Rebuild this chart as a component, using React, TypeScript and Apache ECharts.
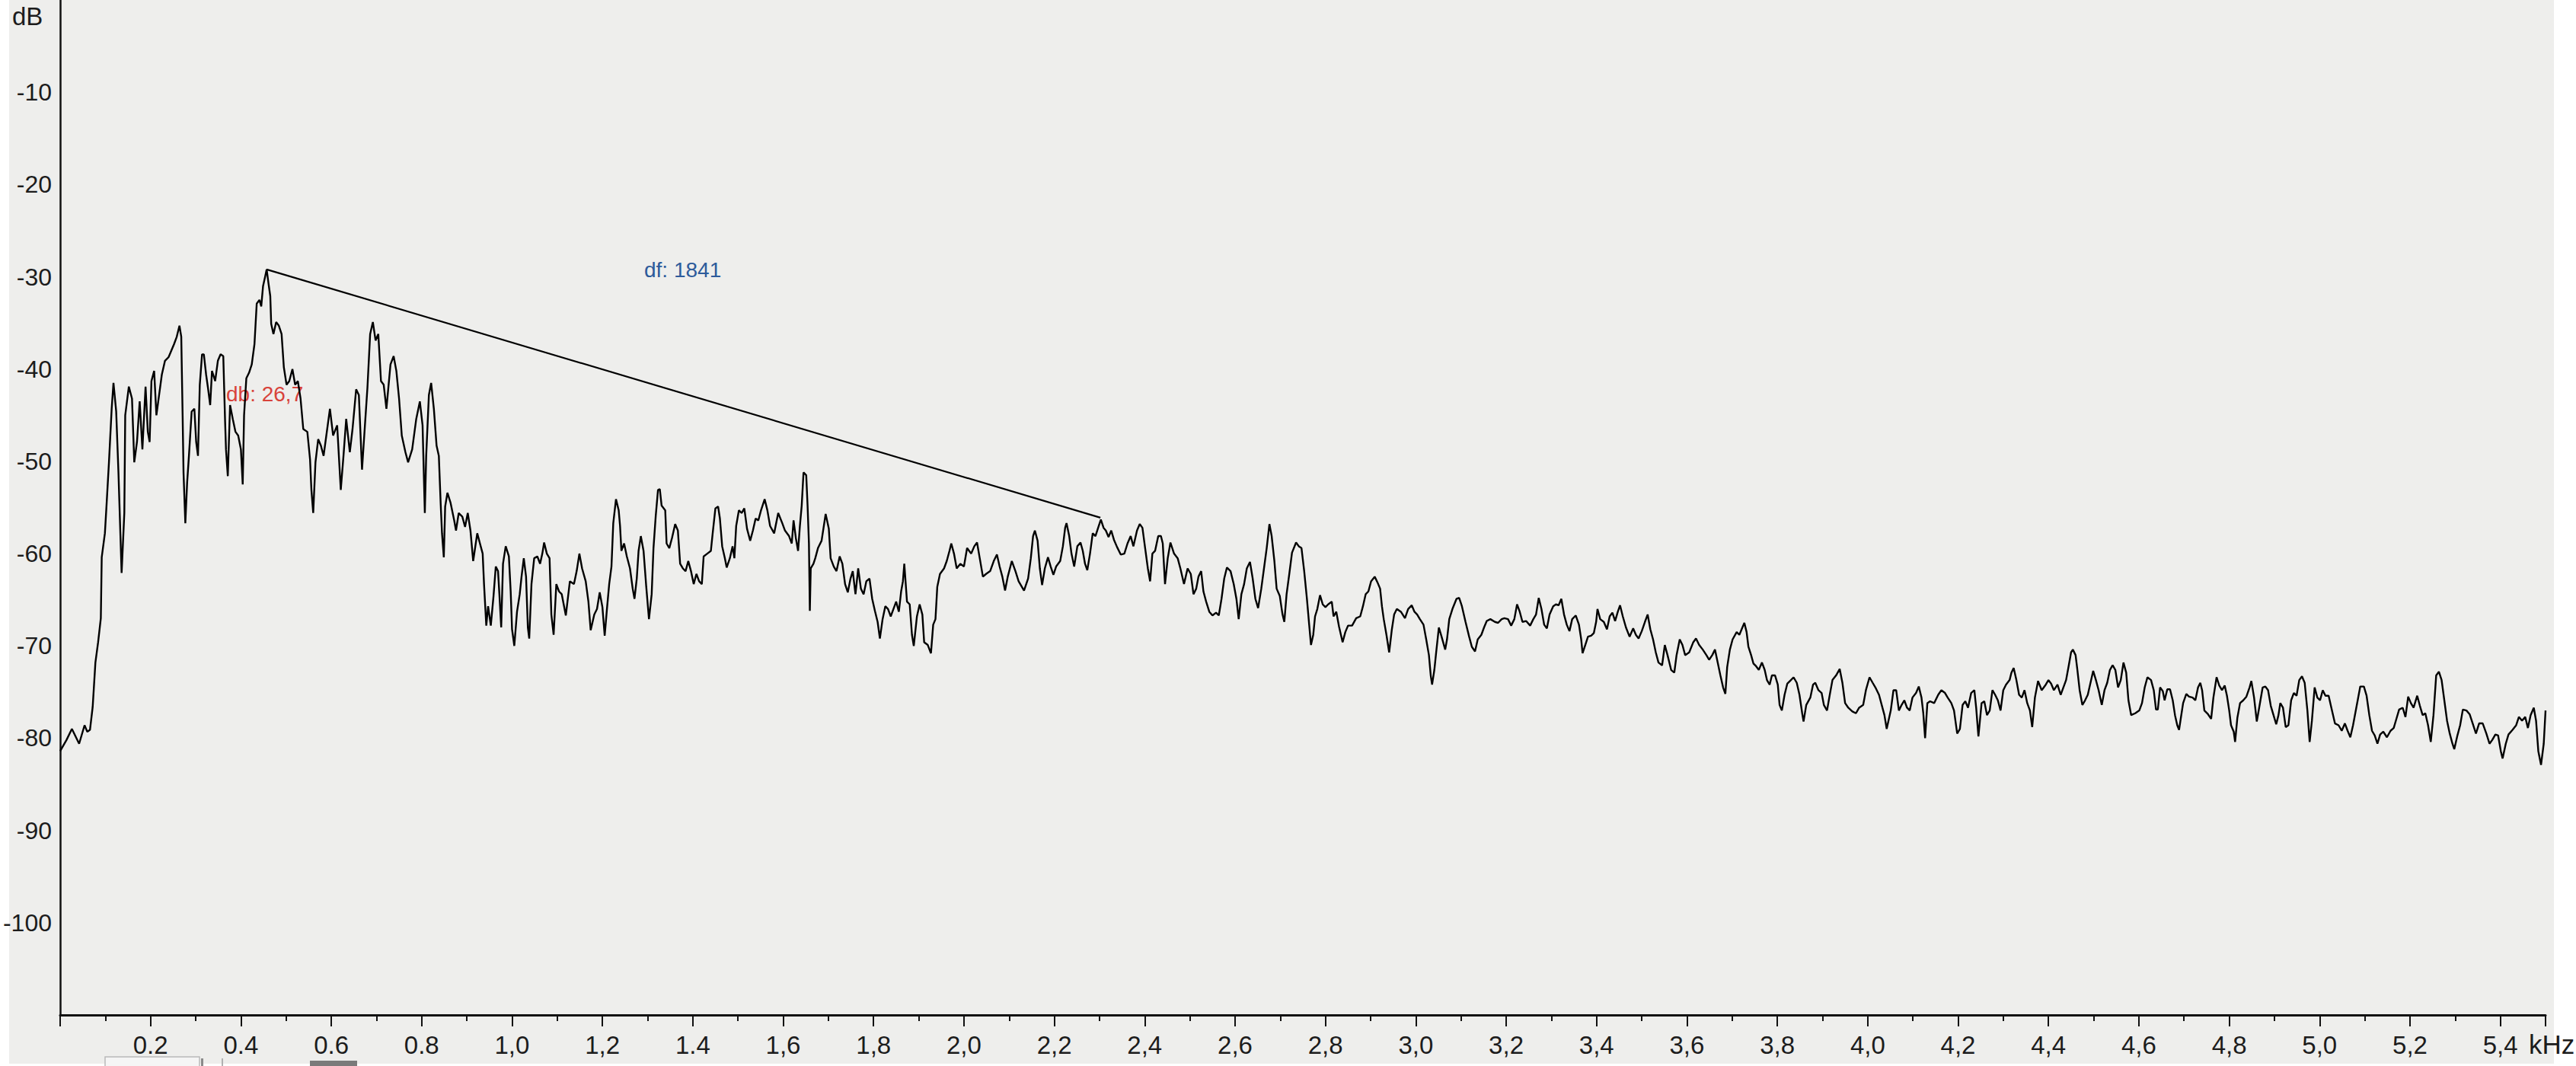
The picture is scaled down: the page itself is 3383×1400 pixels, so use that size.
import React, { useEffect, useRef } from "react";
import * as echarts from "echarts";

// ---- data ----
const spectrumPoints: [number, number][] = [
  [0.000, -81.4], [0.014, -80.2], [0.026, -79.0], [0.042, -80.6], [0.054, -78.6], [0.060, -79.3], [0.066, -79.1],
  [0.072, -76.6], [0.078, -71.8], [0.084, -69.6], [0.090, -67.0], [0.092, -60.4], [0.099, -57.8], [0.102, -55.3],
  [0.108, -50.1], [0.114, -44.3], [0.118, -41.5], [0.124, -44.6], [0.129, -51.2], [0.136, -62.1], [0.142, -55.6],
  [0.144, -45.0], [0.152, -41.9], [0.159, -43.2], [0.164, -50.1], [0.170, -47.9], [0.176, -43.5], [0.182, -48.7],
  [0.189, -41.9], [0.194, -46.8], [0.198, -47.9], [0.202, -41.3], [0.208, -40.2], [0.213, -45.0], [0.219, -42.8],
  [0.225, -40.6], [0.232, -39.1], [0.240, -38.7], [0.246, -38.0], [0.252, -37.3], [0.258, -36.5], [0.264, -35.3],
  [0.268, -36.5], [0.271, -45.0], [0.273, -51.2], [0.277, -56.7], [0.281, -52.3], [0.285, -49.4], [0.291, -44.6],
  [0.297, -44.3], [0.301, -47.9], [0.305, -49.4], [0.309, -41.7], [0.314, -38.4], [0.318, -38.4], [0.323, -40.6],
  [0.327, -42.0], [0.332, -43.9], [0.336, -40.2], [0.343, -41.3], [0.349, -39.1], [0.355, -38.4], [0.361, -38.6],
  [0.365, -45.7], [0.367, -48.7], [0.371, -51.6], [0.376, -43.9], [0.382, -45.4], [0.388, -46.8], [0.394, -47.2],
  [0.400, -48.7], [0.404, -52.5], [0.407, -45.0], [0.412, -41.0], [0.418, -40.4], [0.424, -39.5], [0.430, -37.3],
  [0.435, -32.9], [0.441, -32.5], [0.445, -33.2], [0.449, -31.0], [0.454, -29.9], [0.457, -29.2], [0.461, -30.7],
  [0.465, -32.1], [0.467, -35.1], [0.472, -36.2], [0.478, -34.9], [0.484, -35.3], [0.490, -36.2], [0.495, -39.8],
  [0.501, -41.7], [0.507, -41.3], [0.514, -40.0], [0.520, -41.7], [0.526, -41.3], [0.532, -43.2], [0.538, -46.5],
  [0.547, -46.8], [0.553, -49.8], [0.556, -53.1], [0.560, -55.6], [0.565, -50.1], [0.571, -47.6], [0.577, -48.3],
  [0.583, -49.4], [0.589, -47.2], [0.597, -44.3], [0.604, -47.2], [0.613, -46.1], [0.621, -53.1], [0.627, -49.4],
  [0.633, -45.4], [0.641, -49.0], [0.647, -46.5], [0.655, -42.2], [0.661, -42.8], [0.668, -50.9], [0.672, -47.9],
  [0.680, -42.0], [0.686, -36.2], [0.692, -34.9], [0.698, -36.9], [0.704, -36.2], [0.710, -41.3], [0.716, -41.7],
  [0.722, -44.3], [0.731, -39.5], [0.738, -38.6], [0.744, -40.2], [0.750, -43.2], [0.756, -47.2], [0.764, -49.0],
  [0.770, -50.1], [0.779, -48.7], [0.788, -45.4], [0.796, -43.5], [0.802, -46.1], [0.807, -55.6], [0.810, -49.4],
  [0.816, -42.8], [0.821, -41.5], [0.827, -44.3], [0.833, -48.3], [0.838, -49.4], [0.842, -54.5], [0.845, -57.8],
  [0.849, -60.4], [0.852, -54.9], [0.857, -53.4], [0.864, -54.5], [0.872, -56.4], [0.876, -57.5], [0.882, -55.6],
  [0.890, -56.0], [0.896, -57.1], [0.902, -55.6], [0.908, -57.5],
  [0.914, -60.8], [0.923, -57.8], [0.929, -58.9], [0.935, -60.0], [0.938, -63.3], [0.943, -67.8], [0.947, -65.7],
  [0.953, -67.8], [0.959, -64.6], [0.964, -61.4], [0.969, -61.9], [0.972, -64.4], [0.976, -68.0], [0.980, -61.1],
  [0.986, -59.2], [0.993, -60.3], [0.997, -64.1], [1.000, -68.2], [1.005, -70.0], [1.011, -66.3], [1.017, -64.4],
  [1.021, -62.5], [1.026, -60.5], [1.031, -62.5], [1.035, -68.0], [1.038, -69.2], [1.043, -63.3], [1.049, -60.5],
  [1.056, -60.3], [1.062, -61.1], [1.067, -60.0], [1.071, -58.8], [1.077, -60.0], [1.083, -60.5], [1.087, -66.6],
  [1.092, -68.8], [1.098, -63.3], [1.104, -64.1], [1.110, -64.4], [1.119, -66.7], [1.128, -63.0], [1.137, -63.3],
  [1.143, -61.9], [1.149, -60.0], [1.155, -61.6], [1.163, -63.0], [1.169, -65.2], [1.174, -68.3], [1.182, -66.6],
  [1.188, -66.0], [1.194, -64.2], [1.200, -65.8], [1.205, -68.9], [1.210, -66.0], [1.215, -63.3], [1.220, -61.4],
  [1.224, -56.7], [1.230, -54.1], [1.236, -55.3], [1.239, -57.0], [1.242, -59.7], [1.248, -58.9], [1.254, -60.3],
  [1.261, -61.6], [1.267, -63.8], [1.271, -64.9], [1.276, -62.7], [1.280, -59.7], [1.285, -58.1], [1.291, -59.7],
  [1.297, -63.6], [1.303, -67.1], [1.309, -64.4], [1.313, -59.4], [1.318, -55.9], [1.323, -53.1], [1.327, -53.0],
  [1.331, -54.8], [1.339, -55.3], [1.342, -58.9], [1.348, -59.4], [1.354, -58.3], [1.361, -56.8], [1.367, -57.5],
  [1.372, -61.1], [1.378, -61.6], [1.384, -61.9], [1.390, -60.8], [1.396, -61.9], [1.402, -63.3], [1.408, -62.2],
  [1.414, -63.0], [1.420, -63.3], [1.424, -60.3], [1.432, -60.0], [1.440, -59.7], [1.444, -57.8], [1.450, -55.1],
  [1.456, -54.9], [1.460, -56.2], [1.465, -59.2], [1.471, -60.5], [1.475, -61.5], [1.482, -60.5], [1.488, -59.2],
  [1.492, -60.5], [1.496, -57.0], [1.502, -55.3], [1.508, -55.6], [1.514, -55.1], [1.520, -57.3], [1.527, -58.6],
  [1.533, -57.5], [1.539, -56.2], [1.545, -56.4], [1.551, -55.3], [1.559, -54.1], [1.565, -55.3], [1.571, -57.0],
  [1.580, -57.8], [1.589, -55.6], [1.598, -56.7], [1.604, -57.5], [1.613, -58.1], [1.619, -58.9], [1.623, -56.4],
  [1.628, -58.3], [1.633, -59.7], [1.637, -57.0], [1.641, -54.8], [1.645, -51.2], [1.651, -51.5], [1.654, -54.8],
  [1.657, -58.9], [1.659, -66.2], [1.661, -61.6], [1.667, -61.1], [1.671, -60.5], [1.677, -59.4], [1.685, -58.6],
  [1.694, -55.7], [1.701, -57.3], [1.705, -60.5], [1.712, -61.4], [1.718, -61.9], [1.725, -60.3], [1.731, -61.1],
  [1.737, -63.3], [1.743, -64.2], [1.749, -62.7], [1.754, -61.9], [1.760, -64.4], [1.766, -61.6], [1.772, -63.8],
  [1.778, -64.4], [1.784, -63.0], [1.791, -62.7], [1.797, -64.9], [1.803, -66.2], [1.809, -67.4], [1.814, -69.2],
  [1.820, -67.1], [1.826, -65.7], [1.832, -66.0],
  [1.838, -66.8], [1.844, -66.0], [1.850, -65.2], [1.856, -66.3], [1.861, -64.1], [1.865, -63.0], [1.868, -61.1],
  [1.874, -65.2], [1.880, -65.5], [1.885, -68.8], [1.889, -70.0], [1.896, -66.8], [1.902, -65.5], [1.908, -66.6],
  [1.912, -69.6], [1.920, -69.9], [1.927, -70.8], [1.932, -67.7], [1.937, -67.1], [1.941, -63.6], [1.947, -62.2],
  [1.956, -61.6], [1.962, -60.8], [1.968, -59.7], [1.972, -58.9], [1.978, -60.0], [1.984, -61.6], [1.992, -61.1],
  [2.000, -61.4], [2.007, -59.4], [2.016, -60.0], [2.023, -59.2], [2.029, -58.8], [2.035, -60.5], [2.042, -62.5],
  [2.049, -62.2], [2.058, -61.9], [2.066, -60.8], [2.073, -60.1], [2.079, -61.4], [2.085, -62.5], [2.091, -64.0],
  [2.097, -62.5], [2.106, -60.8], [2.114, -61.9], [2.121, -63.0], [2.133, -64.0], [2.142, -62.7], [2.148, -60.5],
  [2.153, -58.1], [2.157, -57.5], [2.163, -58.6], [2.168, -61.6], [2.173, -63.4], [2.179, -61.6], [2.186, -60.4],
  [2.192, -61.4], [2.198, -62.3], [2.204, -61.4], [2.213, -60.8], [2.219, -59.2], [2.224, -57.2], [2.227, -56.7],
  [2.233, -58.1], [2.238, -60.0], [2.244, -61.4], [2.251, -59.2], [2.258, -58.8], [2.263, -59.7], [2.268, -61.1],
  [2.273, -61.8], [2.279, -60.0], [2.285, -57.8], [2.291, -58.1], [2.297, -57.2], [2.303, -56.3], [2.309, -57.2],
  [2.314, -57.5], [2.320, -58.2], [2.326, -57.5], [2.332, -58.5], [2.339, -59.3], [2.347, -60.1], [2.355, -60.0],
  [2.362, -58.9], [2.369, -58.1], [2.375, -59.2], [2.383, -57.5], [2.389, -56.8], [2.395, -57.2], [2.401, -59.4],
  [2.407, -61.6], [2.412, -63.0], [2.417, -60.0], [2.423, -59.7], [2.430, -58.1], [2.436, -58.1], [2.440, -58.9],
  [2.445, -63.3], [2.451, -60.5], [2.457, -58.8], [2.465, -60.0], [2.473, -60.5], [2.479, -61.6], [2.487, -63.3],
  [2.495, -61.6], [2.502, -62.2], [2.508, -64.4], [2.514, -63.8], [2.519, -62.5], [2.525, -61.9], [2.530, -64.1],
  [2.536, -65.2], [2.543, -66.3], [2.550, -66.7], [2.558, -66.4], [2.564, -66.7], [2.570, -64.9], [2.576, -62.7],
  [2.582, -61.5], [2.590, -61.9], [2.597, -63.3], [2.603, -64.9], [2.608, -67.1], [2.614, -64.4], [2.620, -63.3],
  [2.626, -61.6], [2.633, -60.9], [2.639, -62.7], [2.645, -64.9], [2.651, -65.9], [2.658, -63.8], [2.664, -61.6],
  [2.670, -59.4], [2.676, -56.8], [2.681, -58.1], [2.687, -60.8], [2.692, -63.8], [2.699, -64.6], [2.705, -66.6],
  [2.709, -67.4], [2.714, -64.4], [2.720, -62.2], [2.726, -59.9], [2.735, -58.8], [2.741, -59.2], [2.747, -59.4],
  [2.753, -61.9], [2.759, -64.9], [2.764, -67.7],
  [2.768, -69.9], [2.773, -68.8], [2.777, -66.8], [2.782, -66.0], [2.788, -64.5], [2.794, -65.5], [2.800, -65.8],
  [2.806, -65.5], [2.814, -65.2], [2.818, -66.8], [2.824, -66.3], [2.830, -67.9], [2.838, -69.6], [2.844, -68.5],
  [2.850, -67.8], [2.859, -67.8], [2.868, -67.0], [2.877, -66.8], [2.883, -65.7], [2.889, -64.4], [2.895, -64.1],
  [2.901, -63.0], [2.909, -62.5], [2.915, -63.1], [2.921, -63.8], [2.925, -65.7], [2.929, -67.1], [2.935, -68.8],
  [2.941, -70.7], [2.947, -68.2], [2.952, -66.6], [2.958, -66.0], [2.967, -66.3], [2.976, -67.0], [2.983, -66.0],
  [2.991, -65.6], [2.997, -66.3], [3.003, -66.6], [3.009, -67.1], [3.017, -67.7], [3.023, -69.3], [3.029, -71.0],
  [3.033, -73.2], [3.036, -74.2], [3.041, -72.6], [3.045, -70.7], [3.051, -68.0], [3.057, -69.0], [3.065, -70.4],
  [3.069, -69.3], [3.074, -67.1], [3.081, -66.0], [3.090, -64.9], [3.096, -64.8], [3.102, -65.7], [3.110, -67.4],
  [3.118, -69.0], [3.124, -70.1], [3.131, -70.6], [3.137, -69.3], [3.145, -68.8], [3.151, -68.0], [3.157, -67.3],
  [3.165, -67.1], [3.175, -67.4], [3.182, -67.5], [3.190, -67.1], [3.196, -67.0], [3.204, -67.1], [3.211, -67.8],
  [3.218, -67.1], [3.224, -65.5], [3.230, -66.3], [3.236, -67.4], [3.244, -67.3], [3.253, -67.8], [3.260, -67.1],
  [3.266, -66.6], [3.272, -64.8], [3.278, -66.0], [3.284, -67.7], [3.290, -68.1], [3.296, -66.6], [3.304, -65.7],
  [3.310, -65.5], [3.316, -65.6], [3.322, -64.9], [3.328, -66.6], [3.334, -67.7], [3.340, -68.4], [3.346, -67.1],
  [3.354, -66.7], [3.361, -67.7], [3.366, -69.3], [3.369, -70.8], [3.375, -69.9], [3.381, -69.0], [3.388, -68.9],
  [3.394, -68.6], [3.399, -67.4], [3.402, -66.0], [3.408, -67.1], [3.416, -67.4], [3.423, -68.2], [3.429, -66.8],
  [3.435, -66.4], [3.441, -67.3], [3.447, -66.3], [3.452, -65.6], [3.458, -66.8], [3.465, -68.0], [3.473, -69.0],
  [3.481, -68.1], [3.487, -68.8], [3.493, -69.2], [3.500, -68.4], [3.507, -67.4], [3.513, -66.6], [3.519, -68.2],
  [3.525, -69.3], [3.531, -70.7], [3.537, -71.8], [3.545, -72.1], [3.551, -69.9], [3.557, -71.0], [3.565, -72.6],
  [3.572, -72.9], [3.577, -71.0], [3.584, -69.3], [3.590, -69.9], [3.596, -71.0], [3.605, -70.7], [3.614, -69.6],
  [3.620, -69.2], [3.627, -69.9], [3.635, -70.4], [3.643, -71.0], [3.649, -71.5], [3.656, -71.0], [3.662, -70.4],
  [3.668, -71.8], [3.674, -73.2], [3.680, -74.5], [3.685, -75.2], [3.689, -72.3], [3.695, -70.4], [3.701, -69.3],
  [3.710, -68.5], [3.716, -68.8], [3.721, -68.2], [3.727, -67.5], [3.732, -68.5], [3.736, -70.1], [3.742, -71.0],
  [3.747, -71.9], [3.753, -72.2], [3.759, -72.6], [3.766, -71.8], [3.772, -72.6], [3.777, -73.7], [3.783, -74.2],
  [3.788, -73.2], [3.795, -73.2], [3.801, -74.2], [3.805, -76.4], [3.810, -77.0], [3.816, -75.3], [3.822, -74.1],
  [3.828, -73.8], [3.836, -73.4], [3.843, -74.0], [3.849, -75.3], [3.855, -77.3], [3.858, -78.2], [3.864, -76.4],
  [3.873, -75.6], [3.879, -74.2], [3.884, -74.0], [3.891, -74.8], [3.898, -75.1], [3.903, -76.4], [3.910, -77.0],
  [3.916, -75.3], [3.922, -73.7], [3.930, -73.2], [3.938, -72.5], [3.944, -74.0], [3.950, -76.2], [3.957, -76.7],
  [3.966, -77.1], [3.974, -77.3], [3.981, -76.7], [3.990, -76.4], [3.996, -74.8], [4.004, -73.4], [4.011, -74.0],
  [4.017, -74.5], [4.025, -75.3], [4.031, -76.4], [4.037, -77.5], [4.042, -79.0], [4.051, -77.0], [4.057, -74.8],
  [4.063, -74.8], [4.069, -77.0], [4.075, -76.4], [4.081, -75.9], [4.087, -76.7], [4.093, -77.0], [4.099, -75.6],
  [4.107, -75.1], [4.113, -74.4], [4.119, -75.6], [4.123, -77.3], [4.127, -80.0], [4.132, -76.2], [4.138, -76.0],
  [4.147, -76.2], [4.156, -75.3], [4.163, -74.8], [4.171, -75.1], [4.177, -75.6], [4.185, -76.2], [4.191, -77.0],
  [4.198, -79.5], [4.204, -79.0], [4.210, -76.4], [4.216, -76.0], [4.222, -76.7], [4.229, -75.1], [4.236, -74.8],
  [4.240, -76.7], [4.245, -79.8], [4.252, -76.2], [4.258, -76.0], [4.264, -77.5], [4.270, -77.0], [4.276, -74.8],
  [4.282, -75.3], [4.288, -75.9], [4.294, -77.0], [4.300, -74.8], [4.306, -74.2], [4.314, -73.7], [4.318, -72.9],
  [4.323, -72.4], [4.329, -73.7], [4.335, -75.3], [4.341, -75.6], [4.347, -74.8], [4.353, -76.2], [4.359, -77.0],
  [4.364, -78.8], [4.370, -75.6], [4.377, -73.8], [4.385, -74.8], [4.394, -74.2], [4.400, -73.7], [4.406, -74.1],
  [4.412, -74.8], [4.420, -74.2], [4.427, -75.3], [4.433, -74.5], [4.439, -73.7], [4.445, -72.1], [4.450, -70.7],
  [4.454, -70.4], [4.460, -71.0], [4.464, -72.6], [4.469, -74.8], [4.475, -76.4], [4.481, -75.9], [4.487, -75.3],
  [4.493, -74.0], [4.499, -72.7], [4.505, -73.7], [4.511, -74.8], [4.518, -76.4], [4.524, -74.8], [4.530, -74.0],
  [4.536, -72.6], [4.542, -72.1], [4.548, -72.6], [4.554, -74.5], [4.560, -73.7], [4.566, -71.8], [4.572, -72.9],
  [4.577, -75.9], [4.583, -77.5], [4.592, -77.3], [4.601, -77.0], [4.607, -76.2], [4.613, -74.5],
  [4.619, -73.4], [4.627, -73.7], [4.633, -74.8], [4.638, -76.9], [4.642, -76.9], [4.647, -74.5], [4.653, -74.9],
  [4.657, -75.9], [4.663, -74.7], [4.669, -74.7], [4.675, -75.9], [4.680, -77.5], [4.685, -78.6], [4.689, -79.1],
  [4.693, -77.8], [4.698, -76.2], [4.705, -75.2], [4.711, -75.5], [4.719, -75.6], [4.725, -75.9], [4.731, -74.5],
  [4.736, -74.0], [4.740, -74.8], [4.745, -77.0], [4.753, -77.4], [4.760, -77.9], [4.765, -75.6], [4.772, -73.4],
  [4.778, -74.3], [4.784, -74.8], [4.790, -74.3], [4.795, -75.4], [4.800, -77.0], [4.804, -78.6], [4.810, -79.3],
  [4.813, -80.4], [4.818, -77.8], [4.824, -76.2], [4.831, -75.9], [4.838, -75.5], [4.845, -74.5], [4.849, -73.8],
  [4.855, -75.6], [4.861, -78.2], [4.867, -76.5], [4.874, -74.5], [4.880, -74.4], [4.886, -74.8], [4.892, -76.5],
  [4.898, -77.5], [4.904, -78.5], [4.909, -77.5], [4.913, -76.2], [4.919, -76.7], [4.925, -78.8], [4.931, -78.6],
  [4.937, -75.9], [4.943, -75.1], [4.949, -75.4], [4.955, -73.7], [4.961, -73.3], [4.967, -74.0], [4.973, -77.0],
  [4.978, -80.4], [4.983, -78.1], [4.989, -74.5], [4.995, -75.6], [5.001, -75.9], [5.007, -74.8], [5.013, -75.4],
  [5.020, -75.4], [5.026, -76.7], [5.034, -78.4], [5.042, -78.6], [5.049, -79.2], [5.056, -78.4], [5.062, -79.2],
  [5.068, -79.9], [5.074, -78.6], [5.082, -76.5], [5.090, -74.4], [5.098, -74.4], [5.104, -75.4], [5.110, -77.5],
  [5.116, -79.2], [5.122, -79.7], [5.128, -80.6], [5.134, -79.6], [5.141, -79.3], [5.149, -79.9], [5.157, -79.2],
  [5.164, -78.9], [5.170, -77.9], [5.176, -76.9], [5.184, -76.7], [5.190, -77.7], [5.196, -75.5], [5.202, -76.2],
  [5.208, -76.7], [5.216, -75.4], [5.222, -76.5], [5.228, -77.5], [5.234, -77.3], [5.240, -78.6], [5.246, -80.4],
  [5.252, -77.5], [5.258, -73.2], [5.264, -72.8], [5.270, -73.7], [5.276, -75.9], [5.282, -78.1], [5.288, -79.5],
  [5.294, -80.6], [5.298, -81.2], [5.305, -79.7], [5.311, -78.6], [5.317, -76.9], [5.325, -77.0], [5.332, -77.4],
  [5.340, -78.6], [5.346, -79.5], [5.353, -78.4], [5.361, -78.4], [5.369, -79.5], [5.376, -80.6], [5.382, -80.2],
  [5.389, -79.6], [5.395, -79.7], [5.401, -81.4], [5.405, -82.2], [5.412, -80.6], [5.418, -79.6], [5.427, -79.1],
  [5.435, -78.6], [5.441, -77.7], [5.448, -78.1], [5.455, -77.7], [5.461, -78.9], [5.467, -77.5], [5.474, -76.7],
  [5.479, -78.1], [5.484, -81.4], [5.490, -82.9], [5.496, -80.6], [5.500, -77.0],
];

// measurement line (peak to peak)
const measureFreqKHz = [0.457, 2.302];
const measureDb = [-29.2, -56.1];
const deltaDbLabel = "db: 26,7";
const deltaFreqLabel = "df: 1841";

// axes
const xTickLabels = [
  "0.2", "0.4", "0.6", "0.8", "1,0", "1,2", "1.4", "1,6", "1,8", "2,0", "2,2", "2,4", "2,6", "2,8",
  "3,0", "3,2", "3,4", "3,6", "3,8", "4,0", "4,2", "4,4", "4,6", "4,8", "5,0", "5,2", "5,4",
];
const xUnit = "kHz";
const yUnit = "dB";
const xMin = 0, xMax = 5.5, xStep = 0.2;
const yMin = -110, yMax = 0, yStep = 10;

const W = 3383;
const H = 1400;
const FONT = '"Liberation Sans", Arial, Helvetica, sans-serif';
const INK = "#1c1c1c";

export default function App() {
  const ref = useRef<HTMLDivElement>(null);

  useEffect(() => {
    if (!ref.current) return;
    const chart = echarts.init(ref.current, null, { renderer: "svg", width: W, height: H });
    const measurePoints = measureFreqKHz.map((f, i) => [f, measureDb[i]]);
    chart.setOption({
      animation: false,
      backgroundColor: "transparent",
      grid: { left: 79, right: 40, top: -2.6, bottom: 67, containLabel: false },
      xAxis: {
        type: "value",
        min: xMin,
        max: xMax,
        interval: xStep,
        axisLine: { show: true, onZero: false, lineStyle: { color: "#111", width: 3 } },
        axisTick: { show: true, length: 15, lineStyle: { color: "#111", width: 2 } },
        minorTick: { show: true, splitNumber: 2, length: 8, lineStyle: { color: "#111", width: 2 } },
        splitLine: { show: false },
        minorSplitLine: { show: false },
        axisLabel: {
          margin: 23,
          fontSize: 33,
          color: INK,
          fontFamily: FONT,
          showMinLabel: false,
          showMaxLabel: false,
          formatter: (v: number) => {
            const i = Math.round(v / xStep) - 1;
            return xTickLabels[i] ?? "";
          },
        },
      },
      yAxis: {
        type: "value",
        min: yMin,
        max: yMax,
        interval: yStep,
        axisLine: { show: true, lineStyle: { color: "#111", width: 2.5 } },
        axisTick: { show: false },
        splitLine: { show: false },
        axisLabel: {
          margin: 11,
          fontSize: 32,
          color: INK,
          fontFamily: FONT,
          showMinLabel: false,
          showMaxLabel: false,
        },
      },
      series: [
        {
          type: "line",
          data: spectrumPoints,
          symbol: "none",
          showSymbol: false,
          lineStyle: { color: "#000", width: 2.4 },
          silent: true,
          clip: true,
          z: 3,
        },
        {
          type: "line",
          data: measurePoints,
          symbol: "none",
          showSymbol: false,
          lineStyle: { color: "#000", width: 2.2 },
          silent: true,
          z: 3,
        },
      ],
      graphic: [
        {
          type: "text",
          left: 16,
          top: 5,
          style: { text: yUnit, font: `33px ${FONT}`, fill: INK },
        },
        {
          type: "text",
          left: 3321,
          top: 1354,
          style: { text: xUnit, font: `35px ${FONT}`, fill: INK },
        },
        {
          type: "text",
          left: 297,
          top: 503,
          style: { text: deltaDbLabel, font: `28px ${FONT}`, fill: "#D8433B" },
        },
        {
          type: "text",
          left: 846,
          top: 340,
          style: { text: deltaFreqLabel, font: `28px ${FONT}`, fill: "#2D5B9B" },
        },
        // scrollbar remnants at the bottom edge
        {
          type: "rect",
          shape: { x: 138, y: 1388, width: 124, height: 14 },
          style: { fill: "#f5f5f5", stroke: "#b9b9b9", lineWidth: 1.5 },
        },
        {
          type: "rect",
          shape: { x: 264, y: 1390, width: 3, height: 10 },
          style: { fill: "#8a8a8a" },
        },
        {
          type: "rect",
          shape: { x: 291, y: 1390, width: 2, height: 10 },
          style: { fill: "#b0b0b0" },
        },
        {
          type: "rect",
          shape: { x: 407, y: 1393, width: 62, height: 7 },
          style: { fill: "#7a7a7a" },
        },
      ],
    });
    return () => chart.dispose();
  }, []);

  return (
    <div
      style={{
        position: "fixed",
        left: 0,
        top: 0,
        width: W,
        height: H,
        background: "#ffffff",
        overflow: "hidden",
      }}
    >
      <div
        style={{
          position: "absolute",
          left: 12,
          top: 0,
          width: 3342,
          height: 1397,
          background: "#EEEEEC",
        }}
      />
      <div ref={ref} style={{ position: "absolute", left: 0, top: 0, width: W, height: H }} />
    </div>
  );
}
